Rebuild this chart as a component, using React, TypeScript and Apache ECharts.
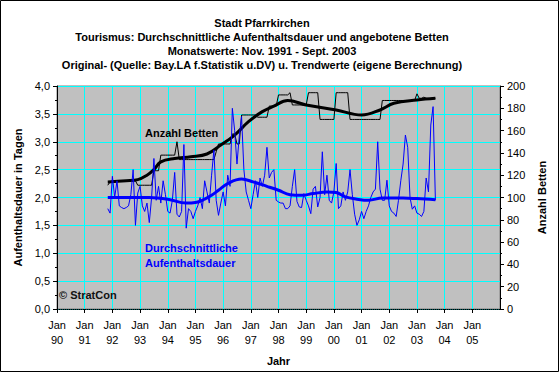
import React, { useEffect, useRef } from "react";
import * as echarts from "echarts";

// months counted from Jan 1990 (0); first observation Nov 1991
const START_MONTH = 22;
const AXIS_MAX_MONTH = 192;
const yearLabels = ["90", "91", "92", "93", "94", "95", "96", "97", "98", "99", "00", "01", "02", "03", "04", "05"];

// Durchschnittliche Aufenthaltsdauer (Tage), monthly Nov 1991 - Sep 2003
const stayValues = [
  1.80, 1.72,
  2.38, 2.00, 2.30, 1.85, 1.82, 1.80, 1.82, 1.85, 2.05, 2.50, 1.50, 2.08,
  2.20, 1.85, 1.75, 1.90, 1.55, 2.00, 2.70, 1.95, 2.20, 1.90, 2.30, 2.05,
  1.75, 1.72, 1.95, 2.45, 1.70, 1.65, 1.75, 2.95, 1.45, 1.80, 1.75, 1.62,
  1.75, 1.85, 2.00, 1.80, 2.30, 2.10, 1.90, 2.40, 2.85, 1.95, 1.68, 1.90,
  2.10, 1.85, 2.40, 2.20, 3.60, 3.20, 2.60, 3.10, 3.45, 2.50, 2.10, 1.95,
  1.80, 2.05, 2.30, 2.00, 2.35, 2.20, 2.40, 2.90, 2.35, 2.45, 2.50, 1.95,
  1.92, 1.90, 1.90, 1.80, 1.80, 1.85, 2.20, 2.50, 1.93, 1.83, 1.82, 2.07,
  1.95, 1.85, 1.71, 2.15, 2.20, 1.83, 2.00, 2.82, 2.05, 2.40, 1.95, 1.90,
  2.10, 2.61, 1.80, 1.85, 2.10, 1.95, 2.10, 2.50, 2.05, 1.70, 1.50, 1.60,
  1.75, 1.62, 1.75, 1.85, 2.00, 2.10, 2.15, 3.00, 2.15, 1.95, 1.95, 2.31,
  1.85, 1.75, 1.72, 1.66, 1.95, 2.30, 2.60, 3.12, 2.90, 2.00, 1.79, 1.85,
  1.72, 1.70, 1.66, 1.75, 2.35, 2.10, 3.30, 3.63, 1.95,
];

// Trend der Aufenthaltsdauer: [month, value]
const stayTrend = [
  [22, 2.0], [30, 2.0], [40, 2.0], [48, 1.97], [56, 1.9], [60, 1.91], [64, 1.97],
  [67, 2.04], [70, 2.13], [74, 2.25], [80, 2.33], [85, 2.28], [91, 2.2], [96, 2.13],
  [101, 2.05], [106, 2.04], [111, 2.07], [117, 2.1], [121, 2.09], [125, 2.01],
  [130, 1.97], [135, 1.95], [141, 1.99], [150, 1.99], [156, 1.98], [164, 1.96],
];

// Anzahl Betten, monthly Nov 1991 - Sep 2003
const bedValues = [
  111, 114,
  115, 115, 115, 115, 115, 115, 115, 115, 115, 115, 115, 111,
  111, 111, 111, 111, 111, 111, 124, 124, 124, 138, 138, 138,
  138, 138, 138, 138, 150, 134, 134, 134, 134, 134, 134, 134,
  134, 134, 134, 134, 134, 134, 134, 134, 134, 141, 148, 148,
  148, 148, 148, 148, 157, 157, 148, 148, 174, 174, 174, 174,
  174, 174, 174, 172, 172, 172, 172, 172, 182, 182, 182, 182,
  192, 192, 192, 192, 192, 194, 183, 183, 183, 183, 183, 183,
  183, 194, 194, 194, 194, 194, 170, 170, 170, 170, 170, 170,
  170, 194, 194, 194, 194, 194, 194, 170, 170, 170, 170, 170,
  170, 170, 170, 170, 170, 170, 170, 170, 170, 187, 187, 187,
  187, 187, 187, 187, 187, 187, 187, 187, 187, 187, 187, 187,
  193, 189, 189, 190, 189, 188, 189, 189, 189,
];

// Trend der Betten: [month, value]
const bedTrend = [
  [22, 114], [30, 115], [35, 116], [39, 120], [42, 125], [45, 132], [51, 135],
  [58, 136.5], [65, 139], [71, 147], [77, 156], [83, 168], [89, 177], [94, 182],
  [100, 187], [108, 183], [121, 178.5], [132, 174], [140, 178.5], [146, 184.5],
  [156, 187.5], [164, 189],
];

const FONT = "'Liberation Sans', Arial, sans-serif";

export default function App() {
  const ref = useRef<HTMLDivElement>(null);
  useEffect(() => {
    const chart = echarts.init(ref.current!, null, { renderer: "svg" });
    const stayData = stayValues.map((v, i) => [START_MONTH + i, v]);
    const bedData = bedValues.map((v, i) => [START_MONTH + i, v]);
    chart.setOption({
      animation: false,
      backgroundColor: "#ffffff",
      textStyle: { fontFamily: FONT },
      title: {
        text:
          "Stadt Pfarrkirchen\nTourismus: Durchschnittliche Aufenthaltsdauer und angebotene Betten\nMonatswerte: Nov. 1991 - Sept. 2003\nOriginal- (Quelle: Bay.LA f.Statistik u.DV) u. Trendwerte (eigene Berechnung)",
        left: 262,
        top: 16,
        textAlign: "center",
        padding: 0,
        textStyle: { fontSize: 11, fontWeight: "bold", lineHeight: 14, color: "#000", fontFamily: FONT },
      },
      grid: {
        left: 57,
        right: 60,
        top: 86,
        bottom: 65,
        show: true,
        backgroundColor: "#C0C0C0",
        borderColor: "#808080",
        borderWidth: 1,
      },
      xAxis: {
        type: "value",
        min: 0,
        max: AXIS_MAX_MONTH,
        interval: 12,
        name: "Jahr",
        nameLocation: "middle",
        nameGap: 46,
        nameTextStyle: { fontSize: 11, fontWeight: "bold", color: "#000", fontFamily: FONT },
        axisLine: { onZero: false, lineStyle: { color: "#000", width: 1, type: [1, 1] } },
        axisTick: { show: true, length: 4, lineStyle: { color: "#000" } },
        axisLabel: {
          fontSize: 11,
          color: "#000",
          lineHeight: 15,
          margin: 8,
          showMaxLabel: false,
          formatter: (v: number) => (v >= AXIS_MAX_MONTH ? "" : "Jan\n" + yearLabels[Math.round(v / 12)]),
        },
        splitLine: { show: true, lineStyle: { color: "#00FFFF", width: 1 } },
      },
      yAxis: [
        {
          type: "value",
          position: "left",
          min: 0,
          max: 4,
          interval: 0.5,
          name: "Aufenthaltsdauer in Tagen",
          nameLocation: "middle",
          nameRotate: 90,
          nameGap: 33,
          nameTextStyle: { fontSize: 11, fontWeight: "bold", color: "#000", fontFamily: FONT },
          axisLine: { show: true, lineStyle: { color: "#000", width: 1 } },
          axisTick: { show: true, length: 4, lineStyle: { color: "#000" } },
          minorTick: { show: true, splitNumber: 2, length: 2, lineStyle: { color: "#000" } },
          axisLabel: {
            fontSize: 11,
            color: "#000",
            margin: 7,
            formatter: (v: number) => v.toFixed(1).replace(".", ","),
          },
          splitLine: { show: true, lineStyle: { color: "#00FFFF", width: 1 } },
        },
        {
          type: "value",
          position: "right",
          min: 0,
          max: 200,
          interval: 20,
          name: "Anzahl Betten",
          nameLocation: "middle",
          nameRotate: 90,
          nameGap: 36,
          nameTextStyle: { fontSize: 11, fontWeight: "bold", color: "#000", fontFamily: FONT },
          axisLine: { show: true, lineStyle: { color: "#000", width: 1 } },
          axisTick: { show: true, length: 4, lineStyle: { color: "#000" } },
          minorTick: { show: true, splitNumber: 2, length: 2, lineStyle: { color: "#000" } },
          axisLabel: { fontSize: 11, color: "#000", margin: 7 },
          splitLine: { show: false },
        },
      ],
      series: [
        {
          name: "Betten",
          type: "line",
          yAxisIndex: 1,
          data: bedData,
          showSymbol: false,
          lineStyle: { color: "#000", width: 1 },
          z: 2,
        },
        {
          name: "Betten Trend",
          type: "line",
          yAxisIndex: 1,
          data: bedTrend,
          showSymbol: false,
          smooth: 0.4,
          lineStyle: { color: "#000", width: 3 },
          z: 3,
        },
        {
          name: "Aufenthaltsdauer",
          type: "line",
          yAxisIndex: 0,
          data: stayData,
          showSymbol: false,
          lineStyle: { color: "#0000FF", width: 1 },
          z: 4,
        },
        {
          name: "Aufenthaltsdauer Trend",
          type: "line",
          yAxisIndex: 0,
          data: stayTrend,
          showSymbol: false,
          smooth: 0.4,
          lineStyle: { color: "#0000FF", width: 3 },
          z: 5,
        },
      ],
      graphic: [
        {
          type: "rect",
          shape: { x: 0.5, y: 0.5, width: 558, height: 371 },
          style: { fill: "none", stroke: "#000", lineWidth: 1 },
          silent: true,
          z: 100,
        },
        {
          type: "text",
          x: 145,
          y: 133,
          style: { text: "Anzahl Betten", fill: "#000", font: "bold 11px " + FONT, textVerticalAlign: "middle" },
          z: 100,
        },
        {
          type: "text",
          x: 145,
          y: 248,
          style: { text: "Durchschnittliche", fill: "#0000FF", font: "bold 11px " + FONT, textVerticalAlign: "middle" },
          z: 100,
        },
        {
          type: "text",
          x: 145,
          y: 263,
          style: { text: "Aufenthaltsdauer", fill: "#0000FF", font: "bold 11px " + FONT, textVerticalAlign: "middle" },
          z: 100,
        },
        {
          type: "text",
          x: 59,
          y: 295,
          style: { text: "© StratCon", fill: "#111", font: "bold 11px " + FONT, textVerticalAlign: "middle" },
          z: 100,
        },
      ],
    });
    return () => chart.dispose();
  }, []);
  return (
    <div
      ref={ref}
      style={{ position: "fixed", left: 0, top: 0, width: 560, height: 374, background: "#fff" }}
    />
  );
}
